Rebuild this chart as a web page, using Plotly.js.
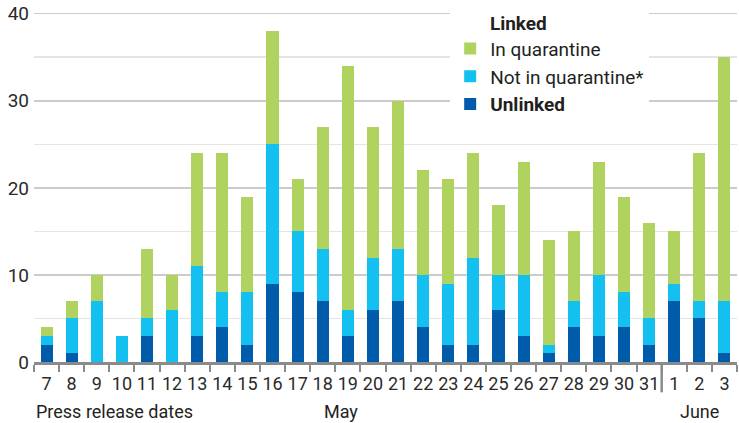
<!DOCTYPE html>
<html>
<head>
<meta charset="utf-8">
<script src="https://cdn.plot.ly/plotly-3.0.1.min.js"></script>
<style>html,body{margin:0;padding:0;background:#fff;}#chart{width:739px;height:423px;}</style>
</head>
<body>
<div id="chart"></div>
<script>
const dates = ["2020-05-07","2020-05-08","2020-05-09","2020-05-10","2020-05-11","2020-05-12","2020-05-13","2020-05-14","2020-05-15","2020-05-16","2020-05-17","2020-05-18","2020-05-19","2020-05-20","2020-05-21","2020-05-22","2020-05-23","2020-05-24","2020-05-25","2020-05-26","2020-05-27","2020-05-28","2020-05-29","2020-05-30","2020-05-31","2020-06-01","2020-06-02","2020-06-03"];
const dayLabels = ["7","8","9","10","11","12","13","14","15","16","17","18","19","20","21","22","23","24","25","26","27","28","29","30","31","1","2","3"];
const unlinked      = [2,1,0,0,3,0,3,4,2,9,8,7,3,6,7,4,2,2,6,3,1,4,3,4,2,7,5,1];
const notInQuarantine = [1,4,7,3,2,6,8,4,6,16,7,6,3,6,6,6,7,10,4,7,1,3,7,4,3,2,2,6];
const inQuarantine  = [1,2,3,0,8,4,13,16,11,13,6,14,28,15,17,12,12,12,8,13,12,8,13,11,11,6,17,28];

const FONT = 'Roboto,"Liberation Sans",sans-serif';
const TXT = '#231f20';
const AX = '#8a8a8a';
const nbsp = '\u00a0';

const traces = [
  {type:'bar', name:'<b>Unlinked</b>', x:dates, y:unlinked, marker:{color:'#005baa'}, hoverinfo:'skip'},
  {type:'bar', name:'Not in quarantine*', x:dates, y:notInQuarantine, marker:{color:'#14c0f0'}, hoverinfo:'skip'},
  {type:'bar', name:'In quarantine', x:dates, y:inQuarantine, marker:{color:'#b0d360'}, hoverinfo:'skip'}
];

const juneIdx = dates.indexOf("2020-06-01");

const layout = {
  width:739, height:423,
  margin:{l:34, r:2, t:5, b:61},
  paper_bgcolor:'#fff', plot_bgcolor:'#fff',
  barmode:'stack', bargap:0.52,
  font:{family:FONT, color:TXT, size:18},
  showlegend:true,
  legend:{
    x:0.592, y:1, xanchor:'left', yanchor:'top',
    bgcolor:'#fff', traceorder:'reversed',
    font:{family:FONT, size:19, color:TXT},
    title:{text:nbsp.repeat(8)+'<b>Linked</b>', font:{family:FONT, size:19, color:TXT}},
    tracegroupgap:0, itemclick:false, itemdoubleclick:false
  },
  xaxis:{
    type:'category', tickmode:'array', tickvals:dates, ticktext:dayLabels, tickangle:0,
    showgrid:false, zeroline:false, showline:true, linecolor:AX, linewidth:3,
    ticks:'outside', tickson:'boundaries', ticklen:7, tickwidth:2, tickcolor:AX,
    ticklabelstandoff:3,
    tickfont:{family:FONT, size:18, color:'#2a2a2a'}, fixedrange:true
  },
  yaxis:{
    range:[0,41], tickvals:[0,10,20,30,40], showline:false, zeroline:false,
    showgrid:true, gridcolor:'#cccccc', gridwidth:1.5,
    minor:{tickvals:[5,15,25,35], showgrid:true, gridcolor:'#e4e4e4', gridwidth:1.5},
    tickfont:{family:FONT, size:19, color:'#2a2a2a'}, ticklabelstandoff:4, fixedrange:true
  },
  shapes:[
    {type:'line', xref:'x', yref:'paper', x0:juneIdx-0.5, x1:juneIdx-0.5, y0:0, y1:-0.085, line:{color:AX, width:2.5}}
  ],
  annotations:[
    {text:'Press release dates', xref:'paper', yref:'paper', x:0, y:-0.14, xanchor:'left', yanchor:'middle', showarrow:false, font:{family:FONT, size:18, color:TXT}},
    {text:'May', xref:'paper', yref:'paper', x:(341-34)/703, y:-0.14, xanchor:'center', yanchor:'middle', showarrow:false, font:{family:FONT, size:18, color:TXT}},
    {text:'June', xref:'paper', yref:'paper', x:(699-34)/703, y:-0.14, xanchor:'center', yanchor:'middle', showarrow:false, font:{family:FONT, size:18, color:TXT}}
  ]
};

Plotly.newPlot('chart', traces, layout, {displayModeBar:false, staticPlot:true});
</script>
</body>
</html>
